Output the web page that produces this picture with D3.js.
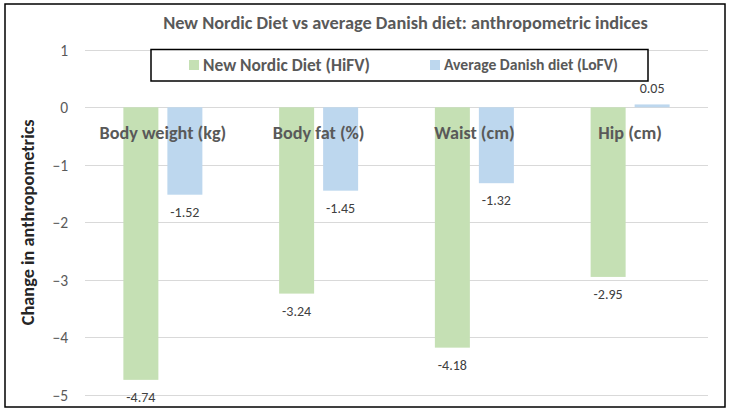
<!DOCTYPE html>
<html><head><meta charset="utf-8">
<script src="https://cdn.jsdelivr.net/npm/d3@7"></script>
<style>
html,body{margin:0;padding:0;background:#fff;}
svg{display:block;font-family:Carlito,Lato,"Open Sans",sans-serif;}
</style></head>
<body>
<svg id="c" width="731" height="414"></svg>
<script>
const categories = ["Body weight (kg)", "Body fat (%)", "Waist (cm)", "Hip (cm)"];
const seriesNames = ["New Nordic Diet (HiFV)", "Average Danish diet (LoFV)"];
const hifv = [-4.74, -3.24, -4.18, -2.95];
const lofv = [-1.52, -1.45, -1.32, 0.05];
const yTicks = [1, 0, -1, -2, -3, -4, -5];
const titleText = "New Nordic Diet vs average Danish diet: anthropometric indices";
const yLabel = "Change in anthropometrics";
const colors = ["#c5e0b4", "#bdd7ee"];

const svg = d3.select("#c");
const plot = {left: 85, right: 708, top: 49.8, bottom: 394.8};

function fit(sel, target, base) {
  sel.style("font-size", base + "px");
  const w = sel.node().getComputedTextLength();
  sel.style("font-size", (base * target / w).toFixed(2) + "px");
}

svg.append("rect").attr("x", 5).attr("y", 4).attr("width", 720).attr("height", 403)
  .attr("fill", "#fff").attr("stroke", "#000").attr("stroke-width", 1.5);

const y = d3.scaleLinear().domain([-5, 1]).range([plot.bottom, plot.top]);
const x0 = d3.scaleBand().domain(categories).range([plot.left, plot.right]);
const barW = 35, gap = 9;

// gridlines
svg.append("g").selectAll("line").data(yTicks).join("line")
  .attr("x1", plot.left).attr("x2", plot.right)
  .attr("y1", d => Math.round(y(d)) + 0.5).attr("y2", d => Math.round(y(d)) + 0.5)
  .attr("stroke", "#d9d9d9").attr("stroke-width", 1);

// y axis tick labels
const yAxis = d3.axisLeft(y).tickValues(yTicks).tickSize(0).tickPadding(0).tickFormat(d3.format("d"));
const ga = svg.append("g").attr("transform", `translate(68,0)`).call(yAxis);
ga.select(".domain").remove();
ga.selectAll("text").attr("fill", "#595959").style("font-size", "15.5px").attr("dy", "0.35em")
  .style("font-family", "Carlito,Lato,sans-serif");

// bars
const series = [hifv, lofv];
series.forEach((vals, si) => {
  const g = svg.append("g");
  const bx = (c) => x0(c) + x0.bandwidth() / 2 + (si === 0 ? -(gap / 2 + barW) : gap / 2);
  g.selectAll("rect").data(categories).join("rect")
    .attr("x", c => bx(c))
    .attr("width", barW)
    .attr("y", (c, i) => Math.min(y(vals[i]), y(0)))
    .attr("height", (c, i) => Math.abs(y(vals[i]) - y(0)))
    .attr("fill", colors[si]);
  g.selectAll("text").data(categories).join("text")
    .attr("x", c => bx(c) + barW / 2)
    .attr("y", (c, i) => vals[i] < 0 ? y(vals[i]) + 17 : y(vals[i]) - 16)
    .attr("dy", "0.35em")
    .attr("text-anchor", "middle")
    .attr("fill", "#404040")
    .style("font-size", "14px")
    .text((c, i) => vals[i].toFixed(2));
});

// category labels
const cl = svg.append("g").selectAll("text").data(categories).join("text")
  .attr("x", c => x0(c) + x0.bandwidth() / 2)
  .attr("y", y(0) + 25)
  .attr("dy", "0.35em")
  .attr("text-anchor", "middle")
  .attr("fill", "#595959")
  .style("font-weight", "bold")
  .text(c => c);
cl.style("font-size", "16px");
const w0 = cl.nodes()[0].getComputedTextLength();
cl.style("font-size", (16 * 127 / w0).toFixed(2) + "px");

// title
const t = svg.append("text").attr("x", 405.5).attr("y", 23).attr("dy", "0.35em")
  .attr("text-anchor", "middle").attr("fill", "#595959").style("font-weight", "bold").text(titleText);
fit(t, 485, 15);

// y label
const yl = svg.append("text").attr("transform", `translate(28,${(plot.top + plot.bottom) / 2}) rotate(-90)`)
  .attr("dy", "0.35em").attr("text-anchor", "middle").attr("fill", "#262626")
  .style("font-weight", "bold").text(yLabel);
fit(yl, 206, 15);

// legend
svg.append("rect").attr("x", 151).attr("y", 49.5).attr("width", 497).attr("height", 31.5)
  .attr("fill", "#fff").attr("stroke", "#000").attr("stroke-width", 1.5);
const legX = [189, 430];
const legW = [167, 174];
seriesNames.forEach((n, i) => {
  svg.append("rect").attr("x", legX[i]).attr("y", 60).attr("width", 10).attr("height", 10).attr("fill", colors[i]);
  const lt = svg.append("text").attr("x", legX[i] + 14).attr("y", 65).attr("dy", "0.35em")
    .attr("fill", "#595959").style("font-weight", "bold").text(n);
  fit(lt, legW[i], 15);
});
</script>
</body></html>
